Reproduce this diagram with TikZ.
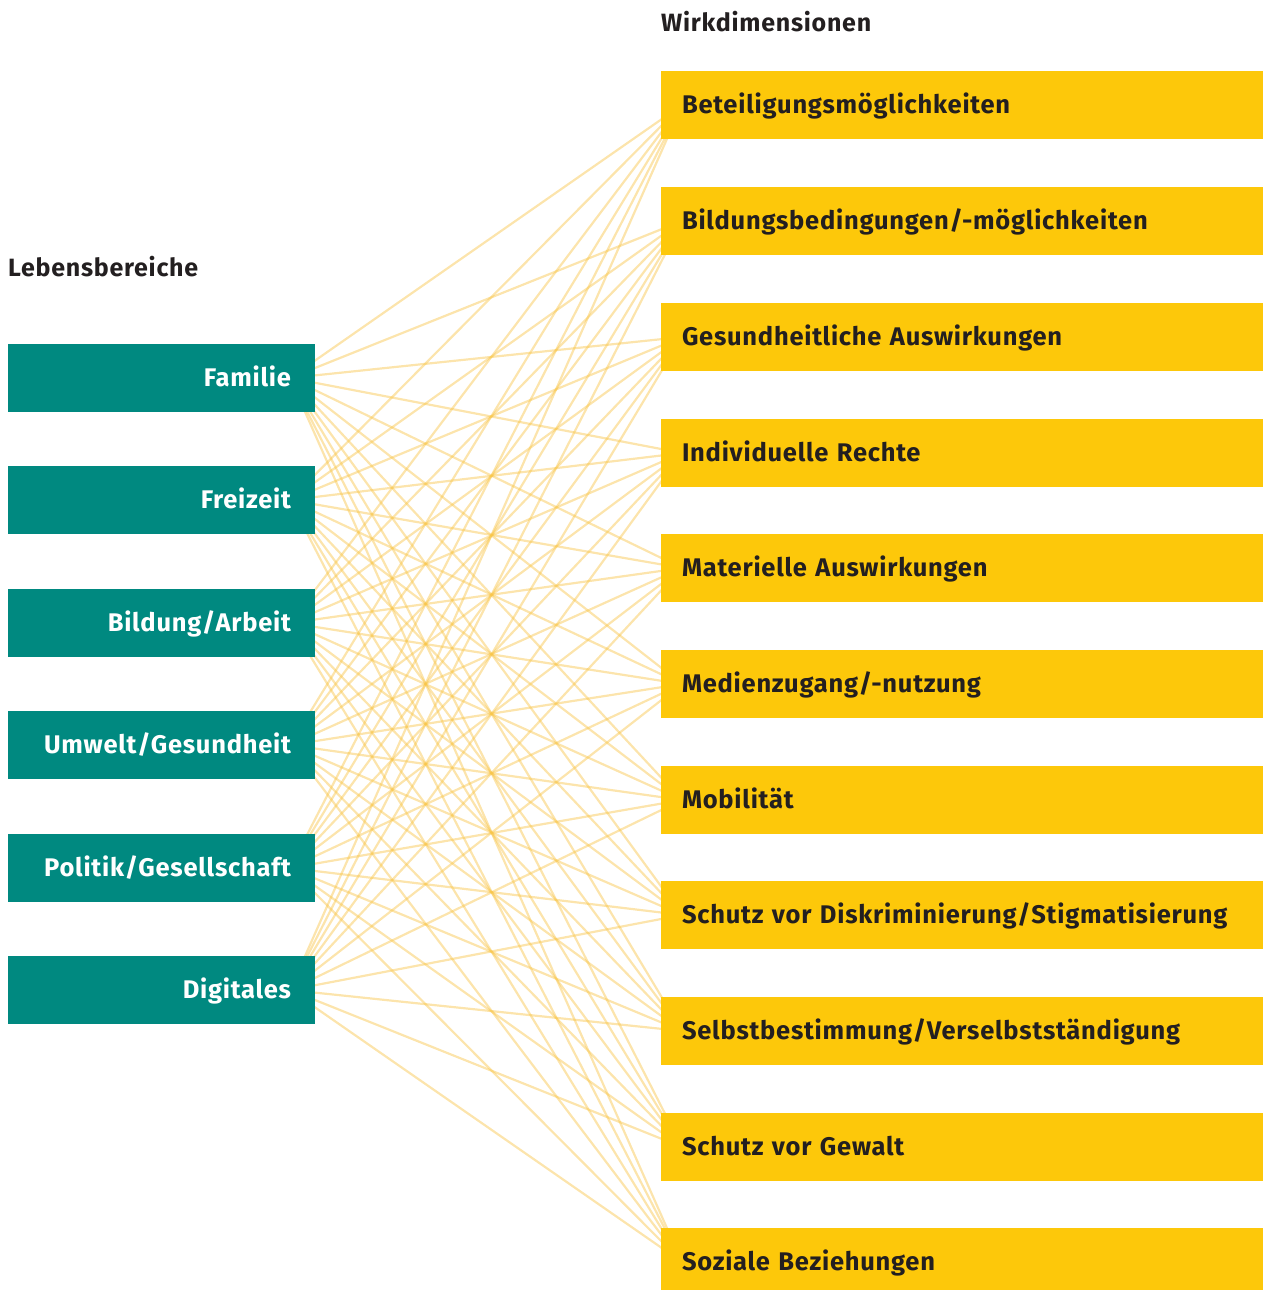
\documentclass[tikz,border=0pt]{standalone}
\usepackage{fontspec}
\setmainfont{Fira Sans}[LetterSpace=3]
\definecolor{teal}{RGB}{0,137,128}
\definecolor{gold}{RGB}{253,200,10}
\definecolor{linecol}{RGB}{248,196,70}
\definecolor{ink}{RGB}{35,31,32}
\begin{document}
\begin{tikzpicture}[x=1pt,y=-1pt,
  boxbase/.style={draw=none, minimum height=68pt, inner ysep=0pt, text height=17pt, text depth=0pt, font=\fontsize{25.5}{29}\selectfont\bfseries},
  leftbox/.style={boxbase, fill=teal, minimum width=307pt, inner xsep=24pt, text width=259pt, align=right, text=white},
  rightbox/.style={boxbase, fill=gold, minimum width=602pt, inner xsep=21pt, text width=560pt, align=left, text=ink},
  heading/.style={text=ink, inner sep=0pt, font=\fontsize{25}{29}\selectfont\bfseries},
  link/.style={draw=linecol, line width=2.2pt, opacity=0.45}]
\useasboundingbox (0,0) rectangle (1263,1290);
\clip (0,0) rectangle (1263,1290);
% anchor points of the connectors
\foreach \i/\y in {1/378,2/500,3/623,4/745,5/868,6/990}
  \coordinate (Lp\i) at (290,\y);
\foreach \j/\y in {1/105,2/221,3/337,4/453,5/568,6/684,7/800,8/915,9/1031,10/1147,11/1262}
  \coordinate (Rp\j) at (682,\y);
% connectors
\foreach \i in {1,...,6}
  \foreach \j in {1,...,11}
    \draw[link] (Lp\i) -- (Rp\j);
% headings
\node[heading, anchor=west] (hl) at (8,267) {Lebensbereiche};
\node[heading, anchor=west] (hr) at (661,22) {Wirkdimensionen};
% left boxes
\node[leftbox] (L1) at (161.5,378) {Familie};
\node[leftbox] (L2) at (161.5,500) {Freizeit};
\node[leftbox] (L3) at (161.5,623) {Bildung/Arbeit};
\node[leftbox] (L4) at (161.5,745) {Umwelt/Gesundheit};
\node[leftbox] (L5) at (161.5,868) {Politik/Gesellschaft};
\node[leftbox] (L6) at (161.5,990) {Digitales};
% right boxes
\node[rightbox] (R1) at (962,105) {Beteiligungsmöglichkeiten};
\node[rightbox] (R2) at (962,221) {Bildungsbedingungen/-möglichkeiten};
\node[rightbox] (R3) at (962,337) {Gesundheitliche Auswirkungen};
\node[rightbox] (R4) at (962,453) {Individuelle Rechte};
\node[rightbox] (R5) at (962,568) {Materielle Auswirkungen};
\node[rightbox] (R6) at (962,684) {Medienzugang/-nutzung};
\node[rightbox] (R7) at (962,800) {Mobilität};
\node[rightbox] (R8) at (962,915) {Schutz vor Diskriminierung/Stigmatisierung};
\node[rightbox] (R9) at (962,1031) {Selbstbestimmung/Verselbstständigung};
\node[rightbox] (R10) at (962,1147) {Schutz vor Gewalt};
\node[rightbox] (R11) at (962,1262) {Soziale Beziehungen};
\end{tikzpicture}
\end{document}
